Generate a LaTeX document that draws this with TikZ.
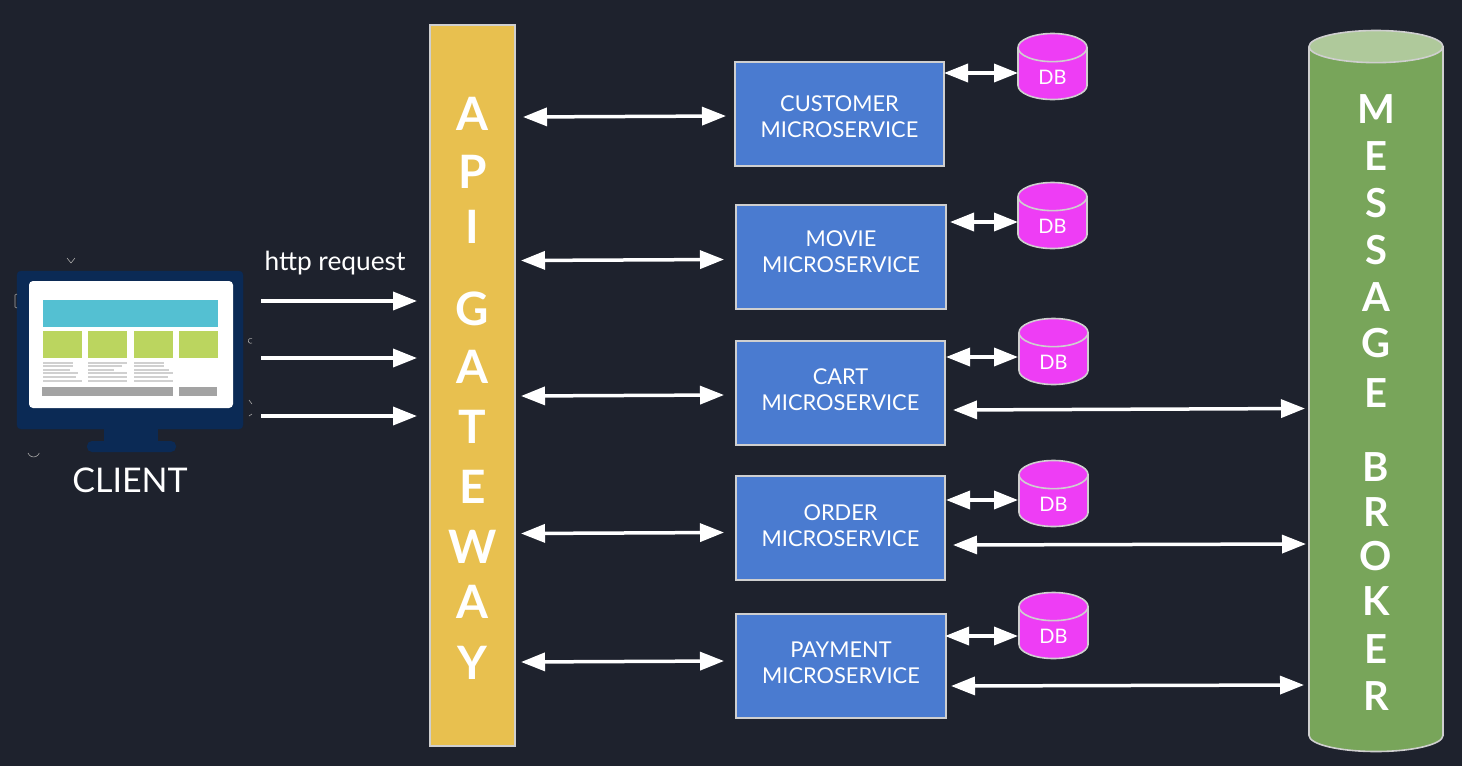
\documentclass[tikz,border=0pt]{standalone}
\usepackage{fontspec}
\setmainfont{Lato}
\usetikzlibrary{arrows.meta,shapes.geometric}
\definecolor{bg}{HTML}{1E222D}
\definecolor{gate}{HTML}{E8C04F}
\definecolor{svc}{HTML}{4A7BD0}
\definecolor{dbc}{HTML}{EE3DF5}
\definecolor{brk}{HTML}{78A55A}
\definecolor{brktop}{HTML}{AFC99B}
\definecolor{navy}{HTML}{0B2A55}
\definecolor{edge}{HTML}{CFCFCF}
\definecolor{scr1}{HTML}{54C0D2}
\definecolor{scr2}{HTML}{BBD55F}
\definecolor{scr3}{HTML}{A3A3A3}
\definecolor{scr4}{HTML}{D0D0D0}
\newcommand\txtdown[1]{\rule{0pt}{#1pt}}
\newcommand\txtup[1]{\rule[-#1pt]{0pt}{0pt}}
\tikzset{
  every node/.style={inner sep=0pt,outer sep=0pt,text=white},
  svcbox/.style={rectangle,draw=edge,line width=1.3pt,fill=svc,minimum width=209pt,minimum height=104pt,align=center,font=\fontsize{21.8}{26}\selectfont},
  dbcyl/.style={cylinder,anchor=shape center,shape border rotate=90,draw=edge,line width=1.6pt,fill=dbc,aspect=1,minimum width=69pt,minimum height=66pt,font=\fontsize{20}{23}\selectfont},
  twoway/.style={draw=white,line width=3.5pt,{Triangle[length=24pt,width=18pt]}-{Triangle[length=24pt,width=18pt]}},
  oneway/.style={draw=white,line width=3.5pt,-{Triangle[length=24pt,width=18pt]}}
}
\begin{document}
\begin{tikzpicture}[x=1pt,y=-1pt]
\useasboundingbox (0,0) rectangle (1462,766);
\fill[bg] (0,0) rectangle (1462,766);
% client monitor
\fill[navy] (104,425) rectangle (158,445);
\fill[navy,rounded corners=5pt] (87,441) rectangle (176,452);
\node[rectangle,fill=navy,draw=navy,rounded corners=4pt,minimum width=226pt,minimum height=158pt] (client) at (130,350) {};
\fill[white,rounded corners=4pt] (29,281) rectangle (233,408);
\fill[scr1] (43,300) rectangle (218,326.5);
\foreach \a/\b in {43/82,88/127,134/173,179/218} \fill[scr2] (\a,330.5) rectangle (\b,358);
\foreach \a/\l in {43/{30,30,27,35,33,39},88/{39,34,26,39,39,39},134/{30,30,35,39,34,39}}{
  \foreach \w [count=\i] in \l
    \fill[scr4] (\a,{358.2+3.55*\i}) rectangle ({\a+\w},{360.2+3.55*\i});
}
\fill[scr3] (42,387) rectangle (173,396);
\fill[scr3] (179,387) rectangle (217,396);
% faint image remnants round the monitor
\draw[gray!70,line width=.6pt] (67,258) -- (71,263) -- (75,258);
\draw[gray!70,line width=.6pt] (17,294) -- (15,295) -- (15,307) -- (17,308);
\draw[gray!70,line width=.6pt] (252,343) arc (60:300:2.5);
\draw[gray!70,line width=.6pt] (249,400) -- (252,404);
\draw[gray!70,line width=.6pt] (249,416) -- (252,414);
\draw[gray!70,line width=.6pt] (28,453) arc (160:20:6);
\node[font=\fontsize{34}{38}\selectfont] (clientlabel) at (130,480) {CLIENT};
\node[font=\fontsize{26.3}{30}\selectfont] (http) at (335,263) {http request};
% gateway
\node[rectangle,draw=edge,line width=1.2pt,fill=gate,minimum width=85pt,minimum height=721pt,align=center,font=\fontsize{46}{59}\selectfont\bfseries] (gw) at (472.5,385.5)
 {\txtdown{38}A\\[-1pt]P\\[-4pt]I\\[23pt]G\\[-1pt]A\\[1pt]T\\[1pt]E\\[1pt]W\\[-4pt]A\\[2pt]Y};
% services
\node[svcbox,minimum width=209pt] (cust) at (839.5,114) {\txtdown{22}CUSTOMER\\MICROSERVICE};
\node[svcbox,minimum width=210pt] (movie) at (841,257) {MOVIE\\MICROSERVICE\txtup{10}};
\node[svcbox] (cart) at (840.5,393) {CART\\MICROSERVICE\txtup{6}};
\node[svcbox] (order) at (840.5,528) {ORDER\\MICROSERVICE\txtup{4}};
\node[svcbox,minimum width=210pt] (pay) at (841,666) {PAYMENT\\MICROSERVICE\txtup{6}};
% databases
\node[dbcyl] (db1) at (1052.5,66.5) {\txtdown{21}DB};
\node[dbcyl] (db2) at (1052.5,215.5) {\txtdown{21}DB};
\node[dbcyl] (db3) at (1053.5,351.5) {\txtdown{21}DB};
\node[dbcyl] (db4) at (1053.5,493.5) {\txtdown{21}DB};
\node[dbcyl] (db5) at (1053.5,625.5) {\txtdown{21}DB};
% broker
\node[cylinder,anchor=shape center,shape border rotate=90,draw=edge,line width=1.6pt,cylinder uses custom fill,cylinder body fill=brk,cylinder end fill=brktop,aspect=.85,minimum width=134pt,minimum height=721pt,align=center,font=\fontsize{40}{47}\selectfont\bfseries] (broker) at (1376,391)
 {\txtdown{35}M\\E\\S\\S\\A\\[-1pt]G\\[3pt]E\\[27pt]B\\[-2pt]R\\[-3pt]O\\[-2pt]K\\[1pt]E\\R};
% connectors
\draw[oneway] ([xshift=18,yshift=49]client.east) -- ([xshift=-13,yshift=84.5]gw.west);
\draw[oneway] ([xshift=18,yshift=-8]client.east) -- ([xshift=-13,yshift=27.5]gw.west);
\draw[oneway] ([xshift=18,yshift=-66]client.east) -- ([xshift=-13,yshift=-30.5]gw.west);
\draw[twoway] ([xshift=8,yshift=268.5]gw.east) -- ([xshift=-9,yshift=-2]cust.west);
\draw[twoway] ([xshift=6,yshift=125]gw.east) -- ([xshift=-12,yshift=-2.5]movie.west);
\draw[twoway] ([xshift=6,yshift=-10.5]gw.east) -- ([xshift=-12,yshift=-2]cart.west);
\draw[twoway] ([xshift=6,yshift=-148]gw.east) -- ([xshift=-12,yshift=-4.5]order.west);
\draw[twoway] ([xshift=6,yshift=-276.5]gw.east) -- ([xshift=-12,yshift=5]pay.west);
\draw[twoway] ([xshift=0,yshift=41]cust.east) -- ([xshift=-34.5,yshift=-6.5]db1.shape center);
\draw[twoway] ([xshift=4,yshift=35]movie.east) -- ([xshift=-34.5,yshift=-6.5]db2.shape center);
\draw[twoway] ([xshift=1,yshift=36]cart.east) -- ([xshift=-35.5,yshift=-5.5]db3.shape center);
\draw[twoway] ([xshift=1,yshift=28]order.east) -- ([xshift=-35.5,yshift=-6.5]db4.shape center);
\draw[twoway] ([xshift=-1,yshift=30]pay.east) -- ([xshift=-35.5,yshift=-10.5]db5.shape center);
\draw[twoway] ([xshift=8,yshift=-17]cart.east) -- ([xshift=-71,yshift=-17.5]broker.shape center);
\draw[twoway] ([xshift=8,yshift=-17]order.east) -- ([xshift=-70,yshift=-153]broker.shape center);
\draw[twoway] ([xshift=5,yshift=-20]pay.east) -- ([xshift=-72,yshift=-294]broker.shape center);
\end{tikzpicture}
\end{document}
